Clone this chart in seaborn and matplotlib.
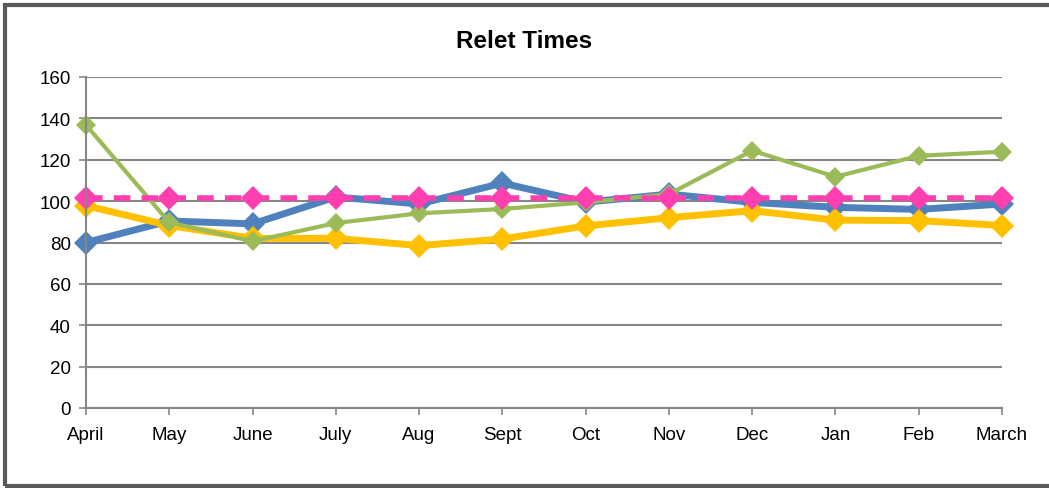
import numpy as np
import pandas as pd
import matplotlib
matplotlib.use('Agg')
import matplotlib.pyplot as plt
import seaborn as sns
from matplotlib.patches import Rectangle

# ── data ────────────────────────────────────────────
MONTHS = ['April', 'May', 'June', 'July', 'Aug', 'Sept',
          'Oct', 'Nov', 'Dec', 'Jan', 'Feb', 'March']
BLUE   = [80, 90.4, 89, 102, 98.6, 108.7, 99.5, 103.4, 99.4, 97, 96, 98.6]
YELLOW = [97.8, 88.2, 82, 82, 78.5, 81.7, 88, 92, 95.4, 90.8, 90.6, 88.2]
GREEN  = [136.8, 89.7, 80.6, 89.4, 94.1, 96.2, 99.4, 103.4, 124.4, 111.8, 121.9, 123.9]
PINK   = [101.5] * 12

sns.set_theme(style='white')
plt.rcParams['font.family'] = ['Liberation Sans Narrow', 'Liberation Sans', 'DejaVu Sans']
plt.rcParams['text.color'] = 'black'
plt.rcParams['xtick.color'] = 'black'
plt.rcParams['ytick.color'] = 'black'

fig = plt.figure(figsize=(10.49, 4.89), dpi=100)
ax = fig.add_axes([86/1049, 1 - 409/489, (1002 - 86)/1049, (409 - 78)/489])

pos = np.arange(len(MONTHS))
series = [
    (BLUE,   '#4F81BD', 5.0, '-',  12),
    (YELLOW, '#FFC000', 5.0, '-',  12),
    (GREEN,  '#9BBB59', 3.0, '-',  10),
    (PINK,   '#FF3FB0', 4.0, (0, (3, 2)), 12),
]
for vals, col, lw, ls, ms in series:
    df = pd.DataFrame({'x': pos, 'y': vals})
    sns.lineplot(data=df, x='x', y='y', ax=ax, color=col, linewidth=lw,
                 linestyle=ls, marker='D', markersize=ms,
                 markeredgecolor=col, markeredgewidth=0, clip_on=False)

ax.set_xlim(0, 11)
ax.set_ylim(0, 160)
ax.set_yticks(range(0, 161, 20))
ax.set_xticks(pos)
ax.set_xticklabels(MONTHS)
ax.set_xlabel('')
ax.set_ylabel('')
ax.grid(axis='y', color='#868686', linewidth=1.5)
ax.set_axisbelow(True)
for s in ['top', 'right']:
    ax.spines[s].set_visible(False)
for s in ['left', 'bottom']:
    ax.spines[s].set_color('#868686')
    ax.spines[s].set_linewidth(1.5)
ax.tick_params(axis='both', which='both', length=5, width=1.2, color='#868686',
               labelcolor='black', direction='out', labelsize=13.5, pad=8,
               left=True, bottom=True)
ax.tick_params(axis='y', pad=6)

fig.text(0.5, 1 - 42/489, 'Relet Times', ha='center', va='center', color='black',
         fontsize=17.5, fontweight='bold', family=['Liberation Sans', 'DejaVu Sans'])

# outer chart frame
fig.patches.append(Rectangle((5/1049, 2/489), 1.2, 1 - 8/489, transform=fig.transFigure,
                             fill=False, edgecolor='#595959', linewidth=3))

fig.savefig('out.png', dpi=100)
